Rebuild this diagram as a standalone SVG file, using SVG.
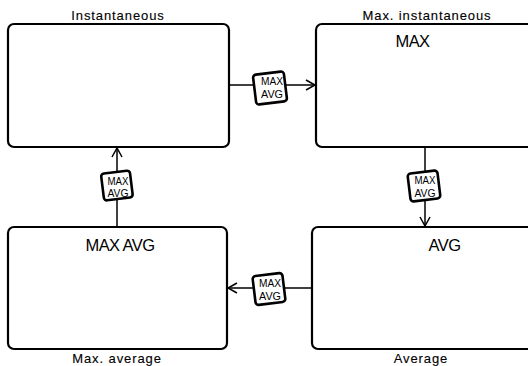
<svg xmlns="http://www.w3.org/2000/svg" width="528" height="366" viewBox="0 0 528 366">
<style>
.box{fill:#fff;stroke:#000;stroke-width:2.2}
.lbl{font-family:"Liberation Sans",Arial,sans-serif;font-size:13px;letter-spacing:0.9px;fill:#000;stroke:#000;stroke-width:0.12;text-anchor:middle}
.big{font-family:"Liberation Sans",Arial,sans-serif;font-size:16.5px;letter-spacing:-0.6px;fill:#000;text-anchor:middle}
.con{fill:none;stroke:#000;stroke-width:1.5}
.tag rect{fill:#fff;stroke:#000;stroke-width:2.6}
.tag text{font-family:"Liberation Sans",Arial,sans-serif;font-size:10.5px;fill:#000;text-anchor:middle}
</style>
<defs>
<marker id="arr" markerUnits="userSpaceOnUse" markerWidth="14" markerHeight="14" viewBox="-12 -7 14 14" refX="0" refY="0" orient="auto">
<path d="M-9,-5 L0,0 L-9,5" fill="none" stroke="#000" stroke-width="1.5"/>
</marker>
</defs>
<rect width="528" height="366" fill="#fff"/>
<g id="instantaneous">
<rect class="box" x="8" y="24" width="221" height="123" rx="6"/>
<text class="lbl" x="118" y="20">Instantaneous</text>
</g>
<g id="max-instantaneous">
<rect class="box" x="316" y="24" width="226" height="123" rx="6"/>
<text class="lbl" x="427" y="20">Max. instantaneous</text>
<text class="big" x="412.5" y="47">MAX</text>
</g>
<g id="max-average">
<rect class="box" x="8" y="227" width="219" height="122" rx="6"/>
<text class="lbl" x="117" y="363">Max. average</text>
<text class="big" x="120" y="251">MAX AVG</text>
</g>
<g id="average">
<rect class="box" x="312" y="227" width="230" height="122" rx="6"/>
<text class="lbl" x="421" y="363">Average</text>
<text class="big" x="444.5" y="251">AVG</text>
</g>
<g id="connectors">
<path class="con" d="M229,85 L315,85" marker-end="url(#arr)"/>
<path class="con" d="M425,147 L425,226" marker-end="url(#arr)"/>
<path class="con" d="M312,288 L228,288" marker-end="url(#arr)"/>
<path class="con" d="M117,227 L117,148" marker-end="url(#arr)"/>
<g class="tag" transform="translate(270,88)">
<rect x="-15.5" y="-15" width="31" height="30" rx="3" transform="rotate(-7)"/>
<text x="2" y="-3" textLength="22" lengthAdjust="spacingAndGlyphs">MAX</text>
<text x="2" y="9.5" textLength="22" lengthAdjust="spacingAndGlyphs">AVG</text>
</g>
<g class="tag" transform="translate(424,186)">
<rect x="-15" y="-14" width="30" height="28" rx="3" transform="rotate(-7)"/>
<text x="1" y="-2" textLength="21" lengthAdjust="spacingAndGlyphs">MAX</text>
<text x="1" y="10.5" textLength="21" lengthAdjust="spacingAndGlyphs">AVG</text>
</g>
<g class="tag" transform="translate(117,186)">
<rect x="-14.5" y="-14" width="29" height="27" rx="3" transform="rotate(-7)"/>
<text x="1" y="-1.5" textLength="21" lengthAdjust="spacingAndGlyphs">MAX</text>
<text x="1" y="11" textLength="21" lengthAdjust="spacingAndGlyphs">AVG</text>
</g>
<g class="tag" transform="translate(269,289)">
<rect x="-15" y="-14.5" width="30" height="29" rx="3" transform="rotate(-7)"/>
<text x="1" y="-2" textLength="22" lengthAdjust="spacingAndGlyphs">MAX</text>
<text x="1" y="10.5" textLength="22" lengthAdjust="spacingAndGlyphs">AVG</text>
</g>
</g>
</svg>
